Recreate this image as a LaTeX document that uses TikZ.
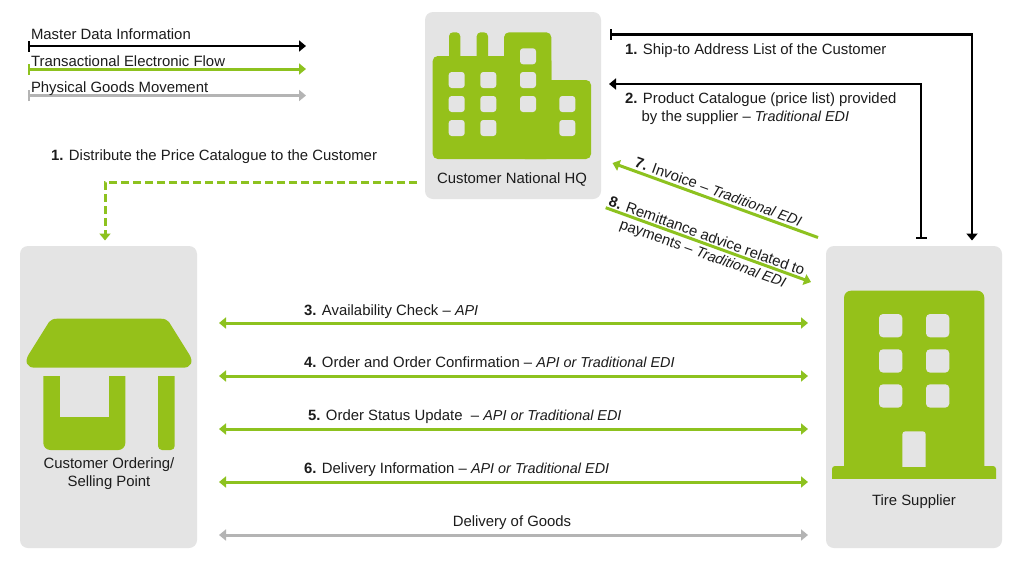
\documentclass[tikz,border=0pt]{standalone}
\usepackage{fontspec}
\setmainfont{Liberation Sans}
\usetikzlibrary{arrows.meta}
\definecolor{leaf}{HTML}{95C11A}
\definecolor{wire}{HTML}{8DC21F}
\definecolor{panelgray}{HTML}{E4E4E4}
\definecolor{goods}{HTML}{B4B4B4}
\definecolor{ink}{HTML}{1C1C1C}
\newcommand{\viaedi}[1]{{\fontsize{14.4}{17}\selectfont\itshape #1}}
\tikzset{
  panel/.style={fill=panelgray,draw=none,rounded corners=8pt,inner sep=0pt},
  label/.style={inner sep=0pt,outer sep=0pt,text=ink,font=\fontsize{14.9}{17}\selectfont,anchor=base west},
  clabel/.style={label,anchor=base},
  slanted/.style={label,anchor=center,rotate=-19.85},
  tip/.style={-{Triangle[length=7pt,width=11pt]}},
  twotips/.style={{Triangle[length=7pt,width=11pt]}-{Triangle[length=7pt,width=11pt]}},
  teetip/.style={{Bar[width=11pt,line width=2.2pt]}-{Triangle[length=7pt,width=11pt]}},
  blackline/.style={draw=black,line width=2.4pt},
  greenline/.style={draw=wire,line width=3pt},
  grayline/.style={draw=goods,line width=3pt},
  icon/.style={fill=leaf,draw=none},
  pane/.style={fill=panelgray,draw=none,rounded corners=3pt}
}
\begin{document}
\begin{tikzpicture}[x=1pt,y=-1pt]
\useasboundingbox[fill=white] (0,0) rectangle (1024,576);

% panels
\node[panel,minimum width=176pt,minimum height=187pt] (hq) at (513,105.5) {};
\node[panel,minimum width=177pt,minimum height=302pt] (shop) at (108.5,397) {};
\node[panel,minimum width=176pt,minimum height=302pt] (tire) at (914,397) {};

% HQ icon
\fill[icon,rounded corners=5pt] (432.7,56) rectangle (551.3,159);
\fill[icon,rounded corners=5pt] (520,80) rectangle (591,159);
\fill[icon,rounded corners=5pt] (504,32.3) rectangle (551.3,120);
\fill[icon,rounded corners=4pt] (449,32.3) rectangle (460.3,70);
\fill[icon,rounded corners=4pt] (476.7,32.3) rectangle (488,70);
\foreach \wx/\wy in {448.7/72,448.7/96,448.7/120,480.3/72,480.3/96,480.3/120,520/48.3,520/72,520/96,559.3/96,559.3/120}
  \fill[pane] (\wx,\wy) rectangle ++(16,16);

% shop icon
\fill[icon] (57,318.7) -- (161,318.7) .. controls (165,318.7) and (167,320) .. (169,322)
  -- (189,354) .. controls (194,362) and (191,367.7) .. (183,367.7)
  -- (35,367.7) .. controls (27,367.7) and (24,362) .. (29,354)
  -- (49,322) .. controls (51,320) and (53,318.7) .. (57,318.7) -- cycle;
\begin{scope}
  \clip (0,376) rectangle (200,460);
  \fill[icon,rounded corners=7pt] (43.3,340) rectangle (125.3,450);
  \fill[icon,rounded corners=4pt] (158,340) rectangle (174.7,450);
\end{scope}
\fill[panelgray] (60,376) rectangle (109,416.7);

% supplier icon
\begin{scope}
  \clip (826,280) rectangle (1002,478);
  \fill[icon,rounded corners=7pt] (844,290.7) rectangle (984.3,500);
  \fill[icon,rounded corners=3pt] (832,466) rectangle (996,500);
\end{scope}
\foreach \wx/\wy in {879/314,926/314,879/349.3,926/349.3,879/384.3,926/384.3}
  \fill[pane,rounded corners=4pt] (\wx,\wy) rectangle ++(23.3,23.3);
\begin{scope}
  \clip (890,420) rectangle (940,466.7);
  \fill[pane,rounded corners=3pt] (902.3,431.3) rectangle (925.7,480);
\end{scope}

% panel captions
\node[clabel] (hqname) at (512,183) {Customer National HQ};
\node[clabel] (shopname1) at (109,468.3) {Customer Ordering/};
\node[clabel] (shopname2) at (109,486) {Selling Point};
\node[clabel] (tirename) at (914,505) {Tire Supplier};

% legend
\coordinate (la1) at (28,46);   \coordinate (lb1) at (306,46);
\coordinate (la2) at (28,69);   \coordinate (lb2) at (306,69);
\coordinate (la3) at (28,95.5); \coordinate (lb3) at (306,95.5);
\draw[blackline,teetip] (la1) -- (lb1);
\draw[greenline,teetip] (la2) -- (lb2);
\draw[grayline,teetip] (la3) -- (lb3);
\node[label] (lt1) at (31,39.5) {Master Data Information};
\node[label] (lt2) at (31,66) {Transactional Electronic Flow};
\node[label] (lt3) at (31,92.7) {Physical Goods Movement};

% dashed distribution
\coordinate (da) at (417,182);
\coordinate (db) at (105,182);
\coordinate (dc) at (105,240.5);
\draw[greenline,tip,dash pattern=on 8pt off 4pt] (da) -- (db) -- (dc);
\node[label] (dt) at (51,160) {\textbf{1.} Distribute the Price Catalogue to the Customer};

% master data connectors
\coordinate (m1a) at (610,34.3);
\coordinate (m1b) at (972,34.3);
\coordinate (m1c) at (972,240.5);
\draw[blackline,teetip] (m1a) -- (m1b) -- (m1c);
\node[label] (m1t) at (625,54.3) {\textbf{1.} Ship-to Address List of the Customer};

\coordinate (m2a) at (921,239);
\coordinate (m2b) at (921,84);
\coordinate (m2c) at (609,84);
\draw[blackline,teetip] (m2a) -- (m2b) -- (m2c);
\node[label] (m2t) at (625,103.3) {\textbf{2.} Product Catalogue (price list) provided};
\node[label] (m2u) at (641.5,121) {by the supplier – \viaedi{Traditional EDI}};

% invoice and remittance
\coordinate (i1) at (818,237.5);
\coordinate (i2) at (612.5,163);
\draw[greenline,tip] (i1) -- (i2);
\node[slanted] (it) at (718.5,191.5) {\textbf{7.} Invoice – \viaedi{Traditional EDI}};
\coordinate (r1) at (605.7,207.7);
\coordinate (r2) at (811,282);
\draw[greenline,tip] (r1) -- (r2);
\node[slanted] (rt1) at (707,235.5) {\textbf{8.} Remittance advice related to};
\node[slanted] (rt2) at (702.5,254.5) {payments – \viaedi{Traditional EDI}};

% horizontal flows
\coordinate (f3a) at (219,323); \coordinate (f3b) at (808,323);
\coordinate (f4a) at (219,376); \coordinate (f4b) at (808,376);
\coordinate (f5a) at (219,429); \coordinate (f5b) at (808,429);
\coordinate (f6a) at (219,482); \coordinate (f6b) at (808,482);
\coordinate (f7a) at (219,535); \coordinate (f7b) at (808,535);
\draw[greenline,twotips] (f3a) -- (f3b);
\draw[greenline,twotips] (f4a) -- (f4b);
\draw[greenline,twotips] (f5a) -- (f5b);
\draw[greenline,twotips] (f6a) -- (f6b);
\draw[grayline,twotips] (f7a) -- (f7b);
\node[label] (f3t) at (304,315) {\textbf{3.} Availability Check – \viaedi{API}};
\node[label] (f4t) at (304,367) {\textbf{4.} Order and Order Confirmation – \viaedi{API or Traditional EDI}};
\node[label] (f5t) at (308,420) {\textbf{5.} Order Status Update\ \ – \viaedi{API or Traditional EDI}};
\node[label] (f6t) at (304,473) {\textbf{6.} Delivery Information – \viaedi{API or Traditional EDI}};
\node[clabel] (f7t) at (512,526) {Delivery of Goods};
\end{tikzpicture}
\end{document}
